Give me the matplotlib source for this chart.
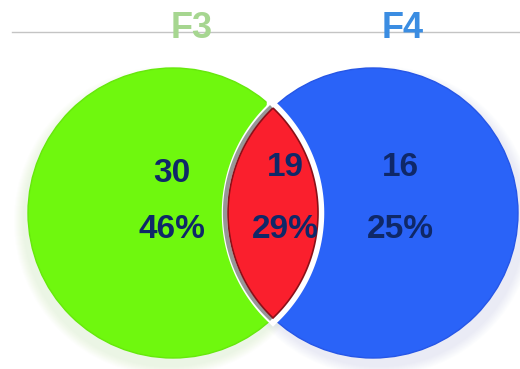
import numpy as np
import matplotlib.pyplot as plt
from matplotlib.patches import Circle, Polygon

# Venn counts: only F3, both, only F4
set_names = ['F3', 'F4']
counts = [30, 19, 16]
total = sum(counts)
shares = [round(100 * c / total) for c in counts]

green = '#6ff80e'
red = '#fa1f2d'
blue = '#2a63f8'
navy = '#0f2868'

fig = plt.figure(figsize=(5.2, 3.69), dpi=100)
ax = fig.add_axes([0, 0, 1, 1])
ax.set_xlim(0, 520)
ax.set_ylim(369, 0)
ax.axis('off')

r = 145
c1 = (173, 213)
c2 = (373, 213)

# soft drop shadows
for k in range(10):
    a = 0.015
    ax.add_patch(Circle((c1[0] - 4, c1[1] + 8), r + 10 - k, color='#8fcf70', alpha=a, lw=0))
    ax.add_patch(Circle((c2[0] + 6, c2[1] + 8), r + 10 - k, color='#7f95e8', alpha=a, lw=0))

ax.add_patch(Circle(c1, r, facecolor=green, edgecolor='#66e80c', lw=1, zorder=2))
ax.add_patch(Circle(c2, r, facecolor=blue, edgecolor='#2656e6', lw=1, zorder=2))

# lens where the two circles overlap
d = c2[0] - c1[0]
h = np.sqrt(r**2 - (d / 2) ** 2)
phi = np.arctan2(h, d / 2)
t = np.linspace(-phi, phi, 80)
right_arc = np.column_stack([c1[0] + r * np.cos(t), c1[1] + r * np.sin(t)])
t2 = np.linspace(np.pi - phi, np.pi + phi, 80)
left_arc = np.column_stack([c2[0] + r * np.cos(t2), c2[1] + r * np.sin(t2)])
lens = np.vstack([right_arc, left_arc])

ax.add_patch(Polygon(lens, closed=True, facecolor='white', edgecolor='white', lw=9, zorder=3))
ax.plot(left_arc[:, 0] - 3, left_arc[:, 1], color='#6b6b6b', lw=3, alpha=0.7, zorder=3)
ax.add_patch(Polygon(lens, closed=True, facecolor=red, edgecolor='#8a1018', lw=1.2, zorder=4))

# title rule and set names
ax.plot([12, 520], [32, 32], color='#c4c4c4', lw=1, zorder=1)
font = ['Liberation Sans', 'DejaVu Sans']
ax.text(192, 29, set_names[0], color='#a6d690', fontsize=26, fontweight='bold',
        family=font, ha='center', va='center', zorder=5)
ax.text(403, 29, set_names[1], color='#3b8de2', fontsize=26, fontweight='bold',
        family=font, ha='center', va='center', zorder=5)

# region labels
label_x = [172, 285, 400]
count_y = [174, 167, 167]
for x, cy, n, p in zip(label_x, count_y, counts, shares):
    ax.text(x, cy, str(n), color=navy, fontsize=24, fontweight='bold',
            family=font, ha='center', va='center', zorder=6)
    ax.text(x, 229, f'{p}%', color=navy, fontsize=24, fontweight='bold',
            family=font, ha='center', va='center', zorder=6)

fig.savefig('out.png', dpi=100)
